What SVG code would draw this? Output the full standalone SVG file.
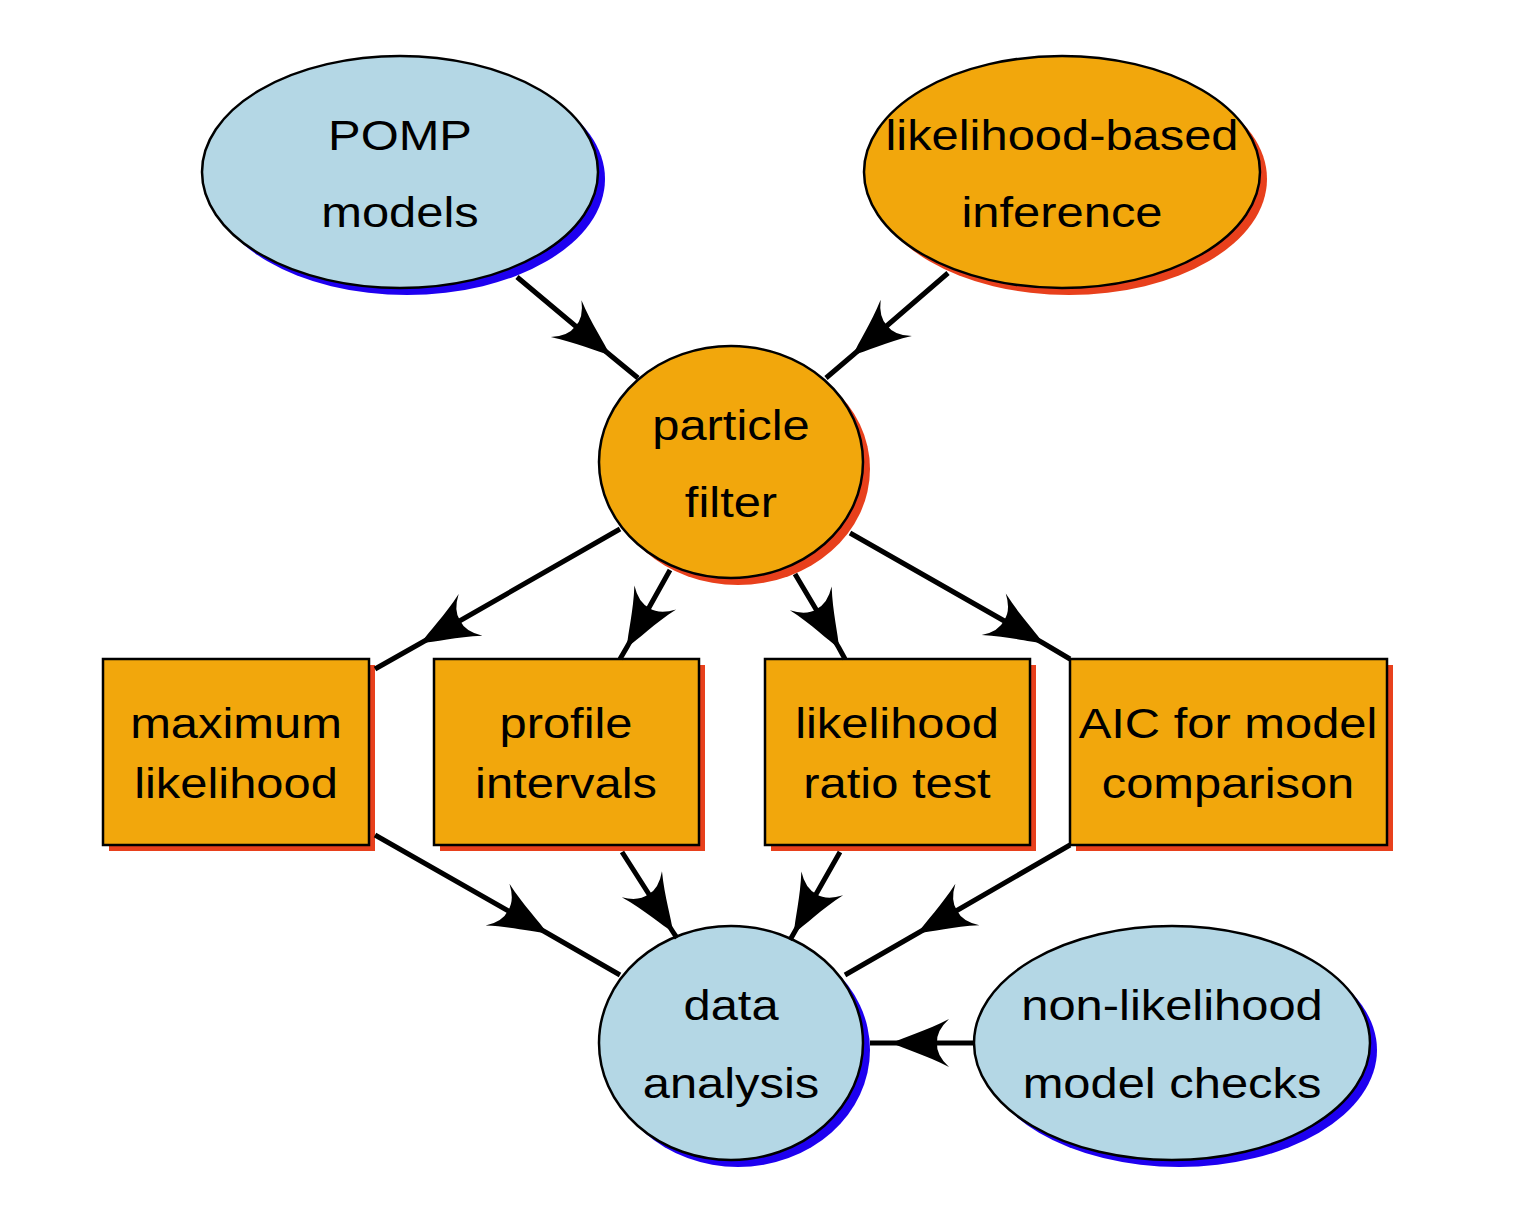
<svg xmlns="http://www.w3.org/2000/svg" width="1514" height="1224" viewBox="0 0 1514 1224">
<style>
.blue{fill:#b4d7e5;stroke:#000;stroke-width:2.5}
.orange{fill:#f2a70c;stroke:#000;stroke-width:2.5}
.bsh{fill:#1e00f0}
.rsh{fill:#e8401c}
.lbl{font-family:"Liberation Sans",Arial,Helvetica,sans-serif;font-size:42.5px;fill:#000;text-anchor:middle}
.edge{fill:none;stroke:#000;stroke-width:5;marker-mid:url(#dart)}
</style>
<defs>
<marker id="dart" markerUnits="userSpaceOnUse" orient="auto" refX="0" refY="0" markerWidth="80" markerHeight="60" viewBox="-60 -30 80 60" overflow="visible">
<path d="M0,0 C-12,-6 -34,-12 -57,-24 Q-44,-12 -45,0 Q-44,12 -57,24 C-34,12 -12,6 0,0 Z" fill="#000"/>
</marker>
</defs>
<rect width="1514" height="1224" fill="#fff"/>
<g id="pomp">
<ellipse class="bsh" cx="407" cy="179" rx="198" ry="116"/>
<ellipse class="blue" cx="400" cy="172" rx="198" ry="116"/>
<text class="lbl" transform="matrix(1.15,0,0,1,400,150)">POMP</text>
<text class="lbl" transform="matrix(1.15,0,0,1,400,227)">models</text>
</g>
<g id="lbi">
<ellipse class="rsh" cx="1069" cy="179" rx="198" ry="116"/>
<ellipse class="orange" cx="1062" cy="172" rx="198" ry="116"/>
<text class="lbl" transform="matrix(1.15,0,0,1,1062,150)">likelihood-based</text>
<text class="lbl" transform="matrix(1.15,0,0,1,1062,227)">inference</text>
</g>
<g id="pf">
<ellipse class="rsh" cx="738" cy="469" rx="132" ry="116"/>
<ellipse class="orange" cx="731" cy="462" rx="132" ry="116"/>
<text class="lbl" transform="matrix(1.15,0,0,1,731,440)">particle</text>
<text class="lbl" transform="matrix(1.15,0,0,1,731,517)">filter</text>
</g>
<g id="ml">
<rect class="rsh" x="109" y="665" width="266" height="186"/>
<rect class="orange" x="103" y="659" width="266" height="186"/>
<text class="lbl" transform="matrix(1.15,0,0,1,236,738)">maximum</text>
<text class="lbl" transform="matrix(1.15,0,0,1,236,798)">likelihood</text>
</g>
<g id="pi">
<rect class="rsh" x="440" y="665" width="265" height="186"/>
<rect class="orange" x="434" y="659" width="265" height="186"/>
<text class="lbl" transform="matrix(1.15,0,0,1,566,738)">profile</text>
<text class="lbl" transform="matrix(1.15,0,0,1,566,798)">intervals</text>
</g>
<g id="lrt">
<rect class="rsh" x="771" y="665" width="265" height="186"/>
<rect class="orange" x="765" y="659" width="265" height="186"/>
<text class="lbl" transform="matrix(1.15,0,0,1,897,738)">likelihood</text>
<text class="lbl" transform="matrix(1.15,0,0,1,897,798)">ratio test</text>
</g>
<g id="aic">
<rect class="rsh" x="1076" y="665" width="317" height="186"/>
<rect class="orange" x="1070" y="659" width="317" height="186"/>
<text class="lbl" transform="matrix(1.15,0,0,1,1228,738)">AIC for model</text>
<text class="lbl" transform="matrix(1.15,0,0,1,1228,798)">comparison</text>
</g>
<g id="da">
<ellipse class="bsh" cx="738" cy="1050" rx="132" ry="117"/>
<ellipse class="blue" cx="731" cy="1043" rx="132" ry="117"/>
<text class="lbl" transform="matrix(1.15,0,0,1,731,1020)">data</text>
<text class="lbl" transform="matrix(1.15,0,0,1,731,1098)">analysis</text>
</g>
<g id="nlmc">
<ellipse class="bsh" cx="1179" cy="1050" rx="198" ry="117"/>
<ellipse class="blue" cx="1172" cy="1043" rx="198" ry="117"/>
<text class="lbl" transform="matrix(1.15,0,0,1,1172,1020)">non-likelihood</text>
<text class="lbl" transform="matrix(1.15,0,0,1,1172,1098)">model checks</text>
</g>
<g id="connectors">
<polyline class="edge" points="517,277 610,355 638,378"/>
<polyline class="edge" points="948,273 853,355 826,378"/>
<polyline class="edge" points="620,529 421,643 375,669"/>
<polyline class="edge" points="670,570 627,647 620,659"/>
<polyline class="edge" points="795,574 839,648 845,659"/>
<polyline class="edge" points="850,533 1043,643 1070,659"/>
<polyline class="edge" points="375,835 547,933 620,975"/>
<polyline class="edge" points="622,852 673,932 677,938"/>
<polyline class="edge" points="840,852 794,933 790,940"/>
<polyline class="edge" points="1070,845 918,933 845,975"/>
<polyline class="edge" points="974,1043 892,1043 870,1043"/>
</g>
</svg>
